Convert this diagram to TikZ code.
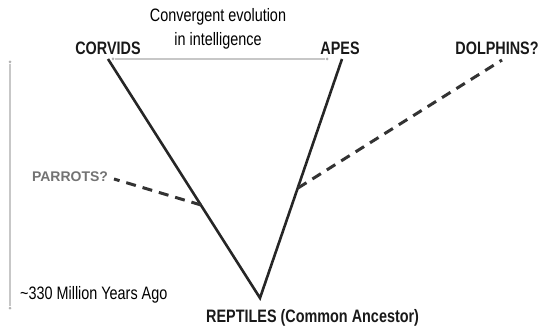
\documentclass[tikz,border=0pt]{standalone}
\usepackage{fontspec}
\setmainfont[FakeStretch=0.8]{Liberation Sans}
\newfontfamily\parrotfont{Liberation Sans}
\begin{document}
\begin{tikzpicture}[x=1pt,y=-1pt,
  lbl/.style={font=\fontsize{18}{20}\selectfont, inner sep=0pt},
  blbl/.style={font=\fontsize{18}{20}\selectfont\bfseries, inner sep=0pt, text=black!90},
  branch/.style={line width=2.6pt, color=black!85, line join=miter},
  dashbranch/.style={line width=3pt, color=black!80, dash pattern=on 10pt off 7pt},
  guide/.style={line width=1.5pt, color=black!22},
  gdot/.style={circle, fill=black!30, inner sep=0pt, minimum size=3pt}
]
\useasboundingbox (0,0) rectangle (538,331);
% coordinates
\coordinate (corvtop) at (108,59);
\coordinate (apestop) at (342,59);
\coordinate (root) at (260,298);
\coordinate (pbranch) at (201,205);
\coordinate (pend) at (114,179);
\coordinate (dbranch) at (298,188);
\coordinate (dend) at (502,60);
% guide lines
\node[gdot] (hl) at (113,59) {};
\node[gdot] (hr) at (327,59) {};
\draw[guide, line width=1.2pt] (hl) -- (hr);
\node[gdot] (vt) at (10,62) {};
\node[gdot] (vb) at (10,308) {};
\draw[guide, line width=2pt] (vt) -- (vb);
% branches
\draw[branch] (corvtop) -- (root) -- (apestop);
\draw[dashbranch] (pbranch) -- (pend);
\draw[dashbranch] (dbranch) -- (dend);
% labels
\node[lbl] (conv1) at (218,17) {Convergent evolution};
\node[lbl] (conv2) at (218,41) {in intelligence};
\node[blbl] (corv) at (108,48) {CORVIDS};
\node[blbl] (apes) at (340,48) {APES};
\node[blbl] (dolph) at (497,48) {DOLPHINS?};
\node[inner sep=0pt, font=\parrotfont\fontsize{14}{16}\selectfont\bfseries, text=black!55] (parrot) at (70,177) {PARROTS?};
\node[blbl, anchor=west] (rept) at (206,318) {REPTILES (Common Ancestor)};
\node[lbl, anchor=west] (mya) at (20,295) {\char`\~330 Million Years Ago};
\end{tikzpicture}
\end{document}
